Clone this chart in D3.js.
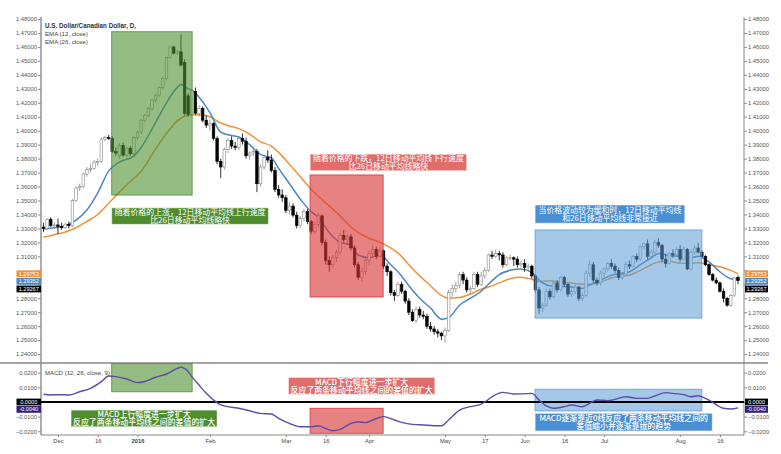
<!DOCTYPE html>
<html><head><meta charset="utf-8">
<script src="https://cdn.jsdelivr.net/npm/d3@7"></script>
<style>body{margin:0;background:#fff}svg{display:block}
.note{box-sizing:border-box;width:100%;height:100%;display:flex;align-items:center;justify-content:center;text-align:center;white-space:pre;color:#fff;font-family:'Noto Sans CJK SC',sans-serif;font-size:7.9px;line-height:8px;letter-spacing:0;overflow:visible}
</style>
</head><body><svg id="c" width="781" height="454"></svg>
<script>
// ---------- DATA ----------
const startDate = "2015-11-25", endDate = "2016-08-23";
const holidays = ["2015-12-25", "2016-01-01"];
const opens = [1.3310,1.3300,1.3365,1.3320,1.3325,1.3315,1.3305,1.3330,1.3320,1.3500,1.3590,1.3600,1.3690,1.3720,1.3730,1.3775,1.3780,1.3940,1.3950,1.3945,1.3850,1.3820,1.3895,1.3825,1.3875,1.3835,1.3950,1.3990,1.4075,1.4110,1.4160,1.4220,1.4255,1.4310,1.4375,1.4525,1.4600,1.4555,1.4565,1.4490,1.4250,1.4115,1.4280,1.4125,1.4160,1.4075,1.4040,1.4050,1.3945,1.3780,1.3740,1.3865,1.3930,1.3890,1.3880,1.3945,1.3925,1.3820,1.3840,1.3850,1.3620,1.3740,1.3810,1.3790,1.3715,1.3580,1.3540,1.3520,1.3430,1.3460,1.3395,1.3320,1.3370,1.3420,1.3350,1.3280,1.3330,1.3390,1.3200,1.3070,1.3040,1.3090,1.3130,1.3250,1.3220,1.3240,1.3160,1.3040,1.2950,1.2990,1.3070,1.3120,1.3150,1.3100,1.3140,1.3030,1.2990,1.2840,1.2820,1.2900,1.2850,1.2780,1.2700,1.2640,1.2720,1.2680,1.2670,1.2600,1.2580,1.2560,1.2550,1.2530,1.2570,1.2840,1.2870,1.2890,1.2970,1.2930,1.2860,1.2870,1.2970,1.2900,1.2960,1.3000,1.3110,1.3100,1.3120,1.3110,1.3040,1.3090,1.3090,1.3080,1.3040,1.3050,1.3020,1.3030,1.2960,1.2860,1.2730,1.2750,1.2850,1.2810,1.2910,1.2860,1.2950,1.2900,1.2830,1.2850,1.2880,1.2800,1.2820,1.2980,1.3040,1.2930,1.2910,1.2980,1.3010,1.3050,1.3030,1.3000,1.2950,1.2970,1.3040,1.3030,1.3100,1.3080,1.3170,1.3190,1.3100,1.3130,1.3200,1.3180,1.3080,1.3050,1.3120,1.3110,1.3150,1.3080,1.3150,1.3010,1.3130,1.3160,1.3130,1.3100,1.3040,1.2970,1.2930,1.2910,1.2850,1.2800,1.2750,1.2820,1.2950];
const highs = [1.3340,1.3375,1.3380,1.3345,1.3370,1.3340,1.3340,1.3350,1.3510,1.3600,1.3620,1.3700,1.3740,1.3760,1.3790,1.3800,1.3950,1.3965,1.3970,1.3960,1.3880,1.3910,1.3915,1.3885,1.3890,1.3960,1.4000,1.4085,1.4120,1.4170,1.4225,1.4265,1.4320,1.4385,1.4530,1.4610,1.4610,1.4580,1.4690,1.4510,1.4270,1.4300,1.4310,1.4185,1.4175,1.4110,1.4080,1.4060,1.3960,1.3800,1.3880,1.3950,1.3960,1.3920,1.3960,1.3980,1.3950,1.3850,1.3880,1.3870,1.3760,1.3830,1.3860,1.3830,1.3740,1.3610,1.3580,1.3540,1.3490,1.3480,1.3420,1.3390,1.3440,1.3440,1.3360,1.3350,1.3410,1.3400,1.3220,1.3100,1.3110,1.3150,1.3270,1.3290,1.3260,1.3260,1.3180,1.3060,1.3020,1.3090,1.3140,1.3180,1.3170,1.3170,1.3150,1.3050,1.3000,1.2860,1.2920,1.2920,1.2860,1.2800,1.2720,1.2740,1.2740,1.2710,1.2690,1.2630,1.2600,1.2580,1.2560,1.2590,1.2860,1.2900,1.2920,1.2990,1.2990,1.2950,1.2890,1.2990,1.2990,1.2990,1.3020,1.3120,1.3140,1.3150,1.3140,1.3130,1.3100,1.3110,1.3100,1.3100,1.3070,1.3080,1.3050,1.3040,1.2970,1.2880,1.2770,1.2870,1.2870,1.2920,1.2930,1.2960,1.2960,1.2910,1.2870,1.2900,1.2890,1.2840,1.3000,1.3070,1.3060,1.2950,1.3000,1.3020,1.3060,1.3080,1.3050,1.3020,1.2990,1.3060,1.3070,1.3110,1.3120,1.3180,1.3200,1.3220,1.3150,1.3220,1.3230,1.3190,1.3120,1.3130,1.3150,1.3170,1.3180,1.3170,1.3160,1.3150,1.3180,1.3195,1.3145,1.3110,1.3050,1.2980,1.2950,1.2920,1.2870,1.2810,1.2830,1.2950,1.2965];
const lows = [1.3275,1.3290,1.3310,1.3300,1.3260,1.3290,1.3295,1.3300,1.3310,1.3490,1.3570,1.3590,1.3670,1.3700,1.3720,1.3745,1.3770,1.3925,1.3935,1.3840,1.3820,1.3800,1.3815,1.3810,1.3820,1.3810,1.3935,1.3980,1.4060,1.4095,1.4140,1.4200,1.4240,1.4295,1.4360,1.4515,1.4545,1.4540,1.4460,1.4110,1.4100,1.4105,1.4115,1.4100,1.4060,1.4020,1.4000,1.3930,1.3760,1.3660,1.3720,1.3840,1.3870,1.3860,1.3860,1.3900,1.3800,1.3790,1.3820,1.3560,1.3600,1.3720,1.3770,1.3700,1.3560,1.3520,1.3490,1.3410,1.3400,1.3380,1.3300,1.3300,1.3350,1.3330,1.3260,1.3260,1.3310,1.3180,1.3040,1.2990,1.3020,1.3060,1.3110,1.3200,1.3180,1.3140,1.3020,1.2930,1.2920,1.2970,1.3040,1.3090,1.3080,1.3090,1.3010,1.2960,1.2820,1.2780,1.2810,1.2830,1.2760,1.2680,1.2630,1.2620,1.2660,1.2650,1.2580,1.2560,1.2540,1.2520,1.2500,1.2480,1.2560,1.2810,1.2840,1.2870,1.2900,1.2840,1.2830,1.2860,1.2880,1.2890,1.2940,1.2990,1.3080,1.3090,1.3070,1.3020,1.3030,1.3070,1.3030,1.3020,1.3020,1.2990,1.2990,1.2940,1.2840,1.2690,1.2700,1.2740,1.2790,1.2800,1.2840,1.2850,1.2880,1.2810,1.2810,1.2830,1.2780,1.2780,1.2810,1.2950,1.2910,1.2890,1.2890,1.2950,1.2990,1.3010,1.2980,1.2930,1.2930,1.2960,1.3010,1.3020,1.3060,1.3070,1.3150,1.3080,1.3090,1.3120,1.3160,1.3060,1.3020,1.3040,1.3090,1.3100,1.3060,1.3070,1.3000,1.3000,1.3110,1.3120,1.3090,1.3030,1.2960,1.2920,1.2900,1.2840,1.2770,1.2740,1.2740,1.2810,1.2900];
const closes = [1.3300,1.3365,1.3320,1.3325,1.3315,1.3305,1.3330,1.3320,1.3500,1.3590,1.3600,1.3690,1.3720,1.3730,1.3775,1.3780,1.3940,1.3950,1.3945,1.3850,1.3840,1.3895,1.3825,1.3875,1.3835,1.3950,1.3990,1.4075,1.4110,1.4160,1.4220,1.4255,1.4310,1.4375,1.4525,1.4600,1.4555,1.4565,1.4470,1.4125,1.4115,1.4290,1.4125,1.4160,1.4075,1.4040,1.4050,1.3945,1.3780,1.3740,1.3865,1.3930,1.3890,1.3880,1.3945,1.3925,1.3820,1.3840,1.3850,1.3620,1.3740,1.3810,1.3790,1.3715,1.3580,1.3540,1.3520,1.3430,1.3460,1.3395,1.3320,1.3370,1.3420,1.3350,1.3280,1.3330,1.3390,1.3200,1.3070,1.3040,1.3090,1.3130,1.3250,1.3220,1.3240,1.3160,1.3040,1.2950,1.2990,1.3070,1.3120,1.3150,1.3100,1.3140,1.3030,1.2990,1.2840,1.2820,1.2900,1.2850,1.2780,1.2700,1.2640,1.2720,1.2680,1.2670,1.2600,1.2580,1.2560,1.2550,1.2530,1.2570,1.2840,1.2870,1.2890,1.2970,1.2930,1.2860,1.2870,1.2970,1.2900,1.2960,1.3000,1.3110,1.3100,1.3120,1.3110,1.3040,1.3090,1.3090,1.3080,1.3040,1.3050,1.3020,1.3030,1.2960,1.2860,1.2730,1.2750,1.2850,1.2810,1.2910,1.2860,1.2950,1.2900,1.2830,1.2850,1.2880,1.2800,1.2820,1.2980,1.3040,1.2930,1.2910,1.2980,1.3010,1.3050,1.3030,1.3000,1.2950,1.2970,1.3040,1.3030,1.3100,1.3080,1.3170,1.3190,1.3100,1.3130,1.3200,1.3180,1.3080,1.3050,1.3120,1.3110,1.3150,1.3080,1.3150,1.3010,1.3130,1.3160,1.3130,1.3100,1.3040,1.2970,1.2930,1.2910,1.2850,1.2800,1.2750,1.2820,1.2945,1.29267];

// EMA readings (bar number from first bar)
const emaBars = [0,3,6,9,12,15,18,21,25,27,31,34,37,38,40,41,43,46,49,52,54,57,60,63,65,68,71,74,76,79,82,85,87,90,93,96,99,101,104,107,110,112,115,118,121,123,126,129,132,135,137,140,143,146,149,151,154,157,159,162,165,168,170,173,176,179,181,184,187,190,192];
const ema12 = [1.3296,1.3305,1.3320,1.3360,1.3432,1.3555,1.3710,1.3775,1.3820,1.3880,1.4060,1.4200,1.4310,1.4330,1.4300,1.4290,1.4240,1.4130,1.3990,1.3965,1.3955,1.3900,1.3830,1.3805,1.3730,1.3620,1.3510,1.3420,1.3380,1.3270,1.3200,1.3180,1.3110,1.3090,1.3110,1.3040,1.2960,1.2890,1.2800,1.2730,1.2650,1.2660,1.2750,1.2800,1.2850,1.2900,1.2970,1.3000,1.3010,1.2985,1.2930,1.2890,1.2885,1.2880,1.2870,1.2895,1.2930,1.2965,1.2975,1.2990,1.3040,1.3090,1.3120,1.3105,1.3100,1.3090,1.3100,1.3060,1.2990,1.2940,1.29352];
const ema26 = [1.3238,1.3255,1.3274,1.3305,1.3350,1.3400,1.3480,1.3560,1.3660,1.3710,1.3870,1.3980,1.4070,1.4090,1.4110,1.4112,1.4115,1.4100,1.4055,1.4030,1.4015,1.3975,1.3920,1.3890,1.3845,1.3760,1.3670,1.3580,1.3530,1.3460,1.3390,1.3310,1.3270,1.3230,1.3200,1.3160,1.3100,1.3040,1.2960,1.2890,1.2820,1.2800,1.2805,1.2830,1.2865,1.2880,1.2910,1.2940,1.2950,1.2935,1.2920,1.2925,1.2918,1.2910,1.2900,1.2900,1.2915,1.2945,1.2955,1.2965,1.3000,1.3040,1.3060,1.3065,1.3050,1.3050,1.3055,1.3040,1.3025,1.3000,1.29753];

// MACD readings (bar number, value)
const macdBars = [0,2,4,7,10,13,16,18,20,23,26,28,31,34,37,38,40,41,43,45,47,49,52,54,57,60,63,65,68,71,74,76,78,80,82,85,87,89,91,94,97,99,102,105,108,110,112,115,118,121,122,124,127,130,134,135,137,139,141,144,146,149,151,153,156,158,161,164,167,169,172,174,177,179,181,183,185,188,190,192];
const macdVal = [0.0053,0.0048,0.0050,0.0048,0.0070,0.0093,0.0139,0.0177,0.0173,0.0157,0.0132,0.0140,0.0169,0.0191,0.0230,0.0237,0.0207,0.0173,0.0116,0.0059,0.0014,-0.0020,-0.0036,-0.0043,-0.0060,-0.0078,-0.0082,-0.0111,-0.0146,-0.0169,-0.0169,-0.0162,-0.0180,-0.0196,-0.0187,-0.0146,-0.0135,-0.0141,-0.0123,-0.0100,-0.0123,-0.0139,-0.0153,-0.0157,-0.0162,-0.0162,-0.0123,-0.0055,-0.0032,-0.0014,0.0000,0.0036,0.0066,0.0055,0.0057,0.0059,0.0014,-0.0027,-0.0043,-0.0032,-0.0020,-0.0032,-0.0009,0.0014,0.0009,0.0018,0.0036,0.0025,0.0025,0.0041,0.0064,0.0059,0.0050,0.0036,0.0043,0.0025,-0.0002,-0.0043,-0.0048,-0.0040];

const priceTicks = [1.48,1.47,1.46,1.45,1.44,1.43,1.42,1.41,1.40,1.39,1.38,1.37,1.36,1.35,1.34,1.33,1.32,1.31,1.30,1.29,1.28,1.27,1.26,1.25,1.24];
const macdTicks = [0.02,0.01,0,-0.01,-0.02];
const xTickDates = ["2015-12-01","2015-12-16","2016-01-04","2016-02-01","2016-03-01","2016-03-16","2016-04-01","2016-05-02","2016-05-17","2016-06-01","2016-06-16","2016-07-01","2016-08-01","2016-08-16"];
const xTickLabels = ["Dec","16","2016","Feb","Mar","16","Apr","May","17","Jun","16","Jul","Aug","16"];

const lastPriceLabels = [
  {text:"1.29753", value:1.29753, color:"#f0913a"},
  {text:"1.29352", value:1.29352, color:"#4a87c3"},
  {text:"1.29267", value:1.29267, color:"#000000"}];
const lastMacdLabels = [
  {text:"0.0000", value:0, color:"#000000"},
  {text:"-0.0040", value:-0.0040, color:"#33227a"}];

// annotations: bar ranges and value ranges
const priceBoxes = [
  {b0:18.85,b1:41.1,top:1.4709,bot:1.3539,fill:"#4f8f2f",op:0.6},
  {b0:73.7,b1:93.9,top:1.3683,bot:1.2809,fill:"#d83535",op:0.62},
  {b0:135.9,b1:182.0,top:1.3289,bot:1.2658,fill:"#5b9bd5",op:0.55}];
const priceNotes = [
  {b0:18.85,b1:62.2,top:1.3448,bot:1.3329,fill:"#4e8c2c",lines:["随着价格的上涨，12日移动平均线上行速度","比26日移动平均线略快"]},
  {b0:73.7,b1:117,top:1.3833,bot:1.3713,fill:"#e06c6c",lines:["随着价格的下跌，12日移动平均线下行速度","比26日移动平均线略快"]},
  {b0:135.9,b1:177.3,top:1.3468,bot:1.3337,fill:"#4a8fd3",lines:["当价格波动较为缓和时，12日移动平均线","和26日移动平均线非常接近"]}];
const macdBoxes = [
  {b0:18.85,b1:41.1,top:0.0262,bot:0.0070,fill:"#4f8f2f",op:0.6},
  {b0:73.7,b1:93.9,top:-0.0043,bot:-0.0214,fill:"#d83535",op:0.62},
  {b0:135.9,b1:182.0,top:0.0087,bot:-0.0061,fill:"#5b9bd5",op:0.55}];
const macdNotes = [
  {b0:7.6,b1:48,top:-0.0055,bot:-0.0169,fill:"#4e8c2c",lines:["MACD上行幅度进一步扩大","反应了两条移动平均线之间的差值的扩大"]},
  {b0:67.7,b1:108.2,top:0.0168,bot:0.0052,fill:"#e06c6c",lines:["MACD下行幅度进一步扩大","反应了两条移动平均线之间的差值的扩大"]},
  {b0:135.9,b1:184.9,top:-0.0077,bot:-0.0198,fill:"#4a8fd3",lines:["MACD逐渐靠近0线反应了两条移动平均线之间的","差值缩小并逐渐靠拢的趋势"]}];

// ---------- CALENDAR ----------
const dates = [];
{
  const d = new Date(startDate + "T00:00:00Z"), end = new Date(endDate + "T00:00:00Z");
  while (d <= end) {
    const s = d.toISOString().slice(0,10), wd = d.getUTCDay();
    if (wd !== 0 && wd !== 6 && !holidays.includes(s)) dates.push(s);
    d.setUTCDate(d.getUTCDate()+1);
  }
}
const bars = dates.map((d,i)=>({date:d,o:opens[i],h:highs[i],l:lows[i],c:closes[i]}));

// ---------- SCALES ----------
const svg = d3.select("#c");
const L = 41, R = 744, TOP = 12, SEP = 363, BOT = 435;
const x = d3.scalePoint().domain(dates).range([43.5, 738]);
const xb = d3.scaleLinear().domain([0, dates.length-1]).range([43.5, 738]);
const y = d3.scaleLinear().domain([1.24,1.48]).range([354.1, 19]);
const ym = d3.scaleLinear().domain([-0.02,0.02]).range([431.3, 372.7]);
const bw = x.step()*0.72;
const FONT = "'Liberation Sans', Arial, sans-serif";

svg.append("clipPath").attr("id","cpMain").append("rect").attr("x",L).attr("y",TOP).attr("width",R-L).attr("height",SEP-TOP);
svg.append("clipPath").attr("id","cpMacd").append("rect").attr("x",L).attr("y",SEP).attr("width",R-L).attr("height",BOT-SEP);

function placeLabels(data, ys, gap) {
  let prev = -Infinity;
  return data.map(d=>({...d, yy: ys(d.value)})).sort((a,b)=>a.yy-b.yy).map(d=>{
    const cy = Math.max(d.yy, prev + gap); prev = cy; return {...d, cy};
  });
}
const pLab = placeLabels(lastPriceLabels, y, 7.6);
const mLab = placeLabels(lastMacdLabels, ym, 7.4);

// ---------- AXES ----------
function yAxisTicks(g, scale, ticks, fmt, occupied) {
  const left = d3.axisLeft(scale).tickValues(ticks).tickFormat(fmt).tickSize(3);
  const right = d3.axisRight(scale).tickValues(ticks).tickFormat(fmt).tickSize(3);
  const gl = g.append("g").attr("transform",`translate(${L},0)`).call(left);
  const gr = g.append("g").attr("transform",`translate(${R},0)`).call(right);
  [gl,gr].forEach(a=>{
    a.select(".domain").remove();
    a.selectAll("line").attr("stroke","#888");
    a.selectAll("text").attr("font-family",FONT).attr("font-size",5.8).attr("fill","#555");
    a.selectAll(".tick").filter(v=>occupied.some(o=>Math.abs(scale(v)-o.cy)<7.2)).select("text").remove();
  });
  gl.selectAll("text").attr("x",-4);
  gr.selectAll("text").attr("x",4);
}
const axG = svg.append("g");
yAxisTicks(axG, y, priceTicks, d3.format(".5f"), pLab);
yAxisTicks(axG, ym, macdTicks, d3.format(".4f"), mLab);

const xa = d3.axisBottom(x).tickValues(xTickDates).tickFormat((d,i)=>xTickLabels[i]).tickSize(2);
const gx = svg.append("g").attr("transform",`translate(0,${BOT})`).call(xa);
gx.select(".domain").remove();
gx.selectAll("line").attr("stroke","#888");
gx.selectAll("text").attr("font-family",FONT).attr("font-size",5.8).attr("fill","#444").attr("dy","0.6em")
  .attr("font-weight",(d,i)=>xTickLabels[i]==="2016"?"bold":"normal");

svg.append("line").attr("x1",L).attr("x2",L).attr("y1",17).attr("y2",BOT).attr("stroke","#999").attr("stroke-width",1.6);
svg.append("line").attr("x1",R).attr("x2",R).attr("y1",17).attr("y2",BOT).attr("stroke","#999").attr("stroke-width",1.2);
svg.append("line").attr("x1",0).attr("x2",768).attr("y1",SEP).attr("y2",SEP).attr("stroke","#888").attr("stroke-width",1.3);
svg.append("line").attr("x1",L).attr("x2",R).attr("y1",BOT).attr("y2",BOT).attr("stroke","#888").attr("stroke-width",1.2);

// ---------- MAIN PANEL ----------
const gm = svg.append("g").attr("clip-path","url(#cpMain)");
const line = (ys)=>d3.line().x((d,i)=>xb(emaBars[i])).y(d=>ys(d)).curve(d3.curveMonotoneX);
gm.append("path").datum(ema26).attr("d",line(y)).attr("fill","none").attr("stroke","#f0913a").attr("stroke-width",1.5);
gm.append("path").datum(ema12).attr("d",line(y)).attr("fill","none").attr("stroke","#4a87c3").attr("stroke-width",1.5);

const cg = gm.selectAll("g.cdl").data(bars).join("g");
cg.append("line").attr("x1",d=>x(d.date)).attr("x2",d=>x(d.date)).attr("y1",d=>y(d.h)).attr("y2",d=>y(d.l))
  .attr("stroke",d=>d.c>=d.o?"#888":"#000").attr("stroke-width",0.8);
cg.append("rect").attr("x",d=>x(d.date)-bw/2).attr("width",bw)
  .attr("y",d=>y(Math.max(d.o,d.c))).attr("height",d=>Math.max(1,Math.abs(y(d.o)-y(d.c))))
  .attr("fill",d=>d.c>=d.o?"#fff":"#000").attr("stroke",d=>d.c>=d.o?"#888":"#000").attr("stroke-width",0.6);

gm.selectAll("rect.box").data(priceBoxes).join("rect")
  .attr("x",d=>xb(d.b0)).attr("width",d=>xb(d.b1)-xb(d.b0))
  .attr("y",d=>y(d.top)).attr("height",d=>y(d.bot)-y(d.top))
  .attr("fill",d=>d.fill).attr("fill-opacity",d=>d.op).attr("stroke",d=>d.fill).attr("stroke-opacity",0.8);

function notes(g, data, ys, weight) {
  const ng = g.selectAll("g.note").data(data).join("g");
  ng.append("rect").attr("x",d=>xb(d.b0)).attr("width",d=>xb(d.b1)-xb(d.b0))
    .attr("y",d=>ys(d.top)).attr("height",d=>ys(d.bot)-ys(d.top))
    .attr("fill",d=>d.fill).attr("stroke","#fff").attr("stroke-opacity",0.6).attr("stroke-width",1);
  ng.append("foreignObject").attr("x",d=>xb(d.b0)-10).attr("width",d=>xb(d.b1)-xb(d.b0)+20)
    .attr("y",d=>ys(d.top)).attr("height",d=>ys(d.bot)-ys(d.top))
    .append("xhtml:div").attr("class","note").style("font-weight",weight)
    .text(d=>d.lines.join("\n"));
}
notes(svg.append("g"), priceNotes, y, "normal");

// ---------- MACD PANEL ----------
const gmd = svg.append("g").attr("clip-path","url(#cpMacd)");
gmd.selectAll("rect.box").data(macdBoxes).join("rect")
  .attr("x",d=>xb(d.b0)).attr("width",d=>xb(d.b1)-xb(d.b0))
  .attr("y",d=>ym(d.top)).attr("height",d=>ym(d.bot)-ym(d.top))
  .attr("fill",d=>d.fill).attr("fill-opacity",d=>d.op).attr("stroke",d=>d.fill).attr("stroke-opacity",0.8);
gmd.append("line").attr("x1",L).attr("x2",R).attr("y1",ym(0)).attr("y2",ym(0)).attr("stroke","#000").attr("stroke-width",1.8);
gmd.append("path").datum(macdVal)
  .attr("d",d3.line().x((d,i)=>xb(macdBars[i])).y(d=>ym(d)).curve(d3.curveMonotoneX))
  .attr("fill","none").attr("stroke","#5b4ca8").attr("stroke-width",1.4);
notes(svg.append("g"), macdNotes, ym, "500");

// ---------- TITLES ----------
svg.append("text").attr("x",45).attr("y",27.5).attr("font-family",FONT).attr("font-size",6.3).attr("font-weight","bold").attr("fill","#333").text("U.S. Dollar/Canadian Dollar, D,");
svg.append("text").attr("x",45).attr("y",35.6).attr("font-family",FONT).attr("font-size",6.1).attr("fill","#444").text("EMA (12, close)");
svg.append("text").attr("x",45).attr("y",43.8).attr("font-family",FONT).attr("font-size",6.1).attr("fill","#444").text("EMA (26, close)");
svg.append("text").attr("x",45).attr("y",375).attr("font-family",FONT).attr("font-size",6.1).attr("fill","#444").text("MACD (12, 26, close, 9)");

// ---------- LAST VALUE LABELS ----------
function drawValueLabels(placed) {
  placed.forEach(d=>{
    [[16.5, 41],[745, 768]].forEach(([x0,x1])=>{
      svg.append("rect").attr("x",x0).attr("y",d.cy-3.4).attr("width",x1-x0).attr("height",6.8).attr("fill",d.color);
      svg.append("text").attr("x",(x0+x1)/2).attr("y",d.cy+2).attr("text-anchor","middle")
        .attr("font-family",FONT).attr("font-size",5.6).attr("fill","#fff").text(d.text);
    });
  });
}
drawValueLabels(pLab);
drawValueLabels(mLab);
</script></body></html>
